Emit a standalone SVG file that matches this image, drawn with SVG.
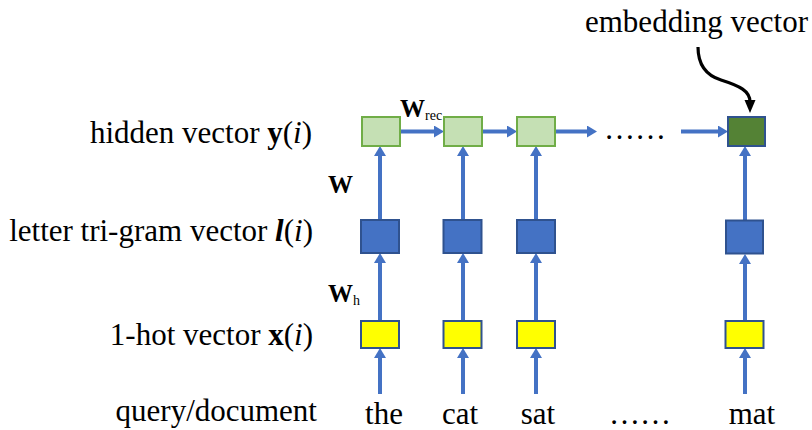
<svg xmlns="http://www.w3.org/2000/svg" width="812" height="430" viewBox="0 0 812 430">
<style>
text{font-family:"Liberation Serif","Times New Roman",serif;fill:#000}
.lbl{font-size:31px}
.w{font-size:25px;font-weight:bold}
.sub{font-size:14px;font-weight:normal}
.hid{fill:#C5E0B4;stroke:#70AD47;stroke-width:2}
.emb{fill:#548235;stroke:#2F528F;stroke-width:2}
.tri{fill:#4472C4;stroke:#2F528F;stroke-width:2}
.hot{fill:#FFFF00;stroke:#2F528F;stroke-width:2}
.arr{stroke:#4472C4;stroke-width:4;fill:none;marker-end:url(#ah)}
</style>
<defs>
<marker id="ah" markerUnits="userSpaceOnUse" markerWidth="11" markerHeight="12" refX="2" refY="6" orient="auto">
<path d="M0,0 L10,6 L0,12 z" fill="#4472C4"/>
</marker>
</defs>
<g id="labels">
<text class="lbl" x="312" y="143" text-anchor="end">hidden vector <tspan font-weight="bold">y</tspan>(<tspan font-style="italic">i</tspan>)</text>
<text class="lbl" x="313" y="241" text-anchor="end">letter tri-gram vector <tspan font-weight="bold" font-style="italic">l</tspan>(<tspan font-style="italic">i</tspan>)</text>
<text class="lbl" x="313" y="345" text-anchor="end">1-hot vector <tspan font-weight="bold">x</tspan>(<tspan font-style="italic">i</tspan>)</text>
<text class="lbl" x="317" y="421" text-anchor="end">query/document</text>
<text class="lbl" x="384" y="424" text-anchor="middle">the</text>
<text class="lbl" x="460" y="424" text-anchor="middle">cat</text>
<text class="lbl" x="538" y="424" text-anchor="middle">sat</text>
<text class="lbl" x="752" y="424" text-anchor="middle">mat</text>
<text class="lbl" x="609" y="424">……</text>
<text class="lbl" x="604" y="139">……</text>
<text class="lbl" x="585" y="32">embedding vector</text>
<text class="w" x="400" y="117">W<tspan class="sub" dy="3">rec</tspan></text>
<text class="w" x="328" y="193">W</text>
<text class="w" x="328" y="302">W<tspan class="sub" dy="3">h</tspan></text>
</g>
<g id="connectors">
<line class="arr" x1="380" y1="394" x2="380" y2="356"/>
<line class="arr" x1="380" y1="321" x2="380" y2="261"/>
<line class="arr" x1="380" y1="220" x2="380" y2="154"/>
<line class="arr" x1="463" y1="394" x2="463" y2="356"/>
<line class="arr" x1="463" y1="321" x2="463" y2="261"/>
<line class="arr" x1="463" y1="220" x2="463" y2="154"/>
<line class="arr" x1="536" y1="394" x2="536" y2="356"/>
<line class="arr" x1="536" y1="321" x2="536" y2="261"/>
<line class="arr" x1="536" y1="220" x2="536" y2="154"/>
<line class="arr" x1="745" y1="394" x2="745" y2="356"/>
<line class="arr" x1="745" y1="321" x2="745" y2="262"/>
<line class="arr" x1="745" y1="220" x2="745" y2="154"/>
<line class="arr" x1="400" y1="131.5" x2="436" y2="131.5"/>
<line class="arr" x1="482" y1="131.5" x2="509" y2="131.5"/>
<line class="arr" x1="555" y1="131.5" x2="589" y2="131.5"/>
<line class="arr" x1="681" y1="131.5" x2="720" y2="131.5"/>
<path d="M698,47 C698,64 705,75 721,80 C740,86 750,91 750,102" fill="none" stroke="#000" stroke-width="3.2"/>
<path d="M744.5,100 L755.5,100 L750,113 z" fill="#000"/>
</g>
<g id="col1">
<rect id="h1" class="hid" x="362" y="117" width="38" height="29"/>
<rect id="t1" class="tri" x="361" y="220" width="38" height="33"/>
<rect id="x1" class="hot" x="361" y="321" width="38" height="27"/>
</g>
<g id="col2">
<rect id="h2" class="hid" x="444" y="117" width="38" height="29"/>
<rect id="t2" class="tri" x="443.5" y="220" width="38" height="33"/>
<rect id="x2" class="hot" x="443.5" y="321" width="38" height="27"/>
</g>
<g id="col3">
<rect id="h3" class="hid" x="517" y="117" width="38" height="29"/>
<rect id="t3" class="tri" x="517" y="220" width="38" height="33"/>
<rect id="x3" class="hot" x="517" y="321" width="38" height="27"/>
</g>
<g id="col4">
<rect id="h4" class="emb" x="728" y="117" width="37" height="29"/>
<rect id="t4" class="tri" x="726" y="220.5" width="37" height="33"/>
<rect id="x4" class="hot" x="725.5" y="321" width="38" height="27"/>
</g>
</svg>
